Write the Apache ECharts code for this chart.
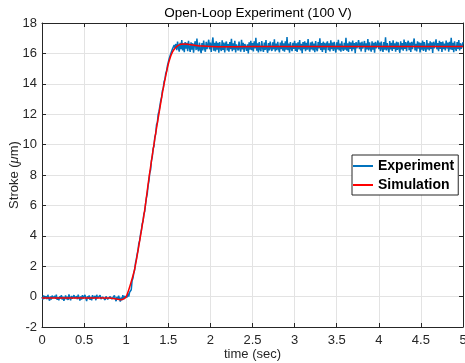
<!DOCTYPE html>
<html>
<head>
<meta charset="utf-8">
<script src="https://cdn.jsdelivr.net/npm/echarts@6/dist/echarts.min.js"></script>
<style>
	html, body { margin: 0; padding: 0; background: #fff; }
	#chart { width: 465px; height: 363px; }
</style>
</head>
<body>
<div id="chart"></div>
<script>
// sample period of the measured signal (sec)
const expDt = 0.01;

// measured stroke, one value per sample, starting at t = 0
const expBaseline = [
	-0.02, -0.20, 0.08, -0.14, -0.24, 0.03, -0.17, 0.12, -0.12, -0.27, 0.01, -0.19, 0.07, -0.10, -0.23, 0.04, -0.15, 0.13, -0.21, -0.04,
	-0.25, 0.02, -0.13, 0.09, -0.19, -0.01, -0.28, -0.09, 0.08, -0.18, 0.00, -0.22, 0.15, -0.08, -0.24, 0.05, -0.14, -0.20, 0.10, -0.11,
	-0.23, 0.03, -0.17, 0.13, -0.07, -0.26, 0.01, -0.19, 0.09, -0.12, -0.22, 0.11, -0.09, -0.30, 0.02, -0.15, 0.08, -0.21, -0.03, -0.25,
	0.10, -0.12, -0.19, 0.04, -0.24, 0.12, -0.10, -0.20, 0.00, 0.09, -0.16, -0.27, -0.02, 0.07, -0.14, -0.22, 0.01, 0.11, -0.18, -0.08,
	-0.25, 0.00, 0.08, -0.17, -0.05, -0.23, 0.07, -0.12, -0.30, -0.02, -0.20, 0.06, -0.13, -0.33, -0.06, -0.24, 0.10, -0.18, 0.02, -0.10,
	0.12, -0.05, 0.20, 0.00, 0.28, 0.15
];
const expRise = [
	0.45, 1.05, 1.20, 1.55, 1.75, 2.20, 2.45, 2.80, 3.05, 3.50, 3.70, 4.10, 4.35, 4.80, 4.95, 5.45, 5.60, 6.10, 6.50, 6.75,
	7.30, 7.60, 8.15, 8.35, 8.95, 9.20, 9.75, 9.90, 10.50, 10.70, 11.30, 11.45, 12.00, 12.20, 12.55, 12.90, 13.10, 13.55, 13.70, 14.15,
	14.30, 14.70, 14.85, 15.20, 15.30, 15.65, 15.70, 16.00, 15.95, 16.30, 16.20, 16.55, 16.35
];
const expPlateau = [
	16.62, 16.21, 16.78, 16.35, 16.12, 16.70, 16.28, 16.88, 16.19, 16.66, 16.08, 16.74, 16.31, 16.69, 16.15, 16.82, 16.38, 16.10, 16.73, 16.24,
	16.67, 16.05, 16.58, 16.80, 16.22, 16.97, 16.30, 16.14, 16.71, 16.26, 16.02, 16.68, 16.20, 16.84, 16.33, 16.11, 16.76, 16.29, 16.17, 16.90,
	16.27, 16.72, 16.09, 16.64, 17.05, 16.18, 16.70, 16.13, 16.79, 16.25, 16.69, 16.04, 16.75, 16.32, 16.16, 16.86, 16.23, 16.71, 16.07, 16.63,
	16.78, 16.20, 16.61, 16.11, 16.74, 16.28, 16.96, 16.15, 16.67, 16.24, 16.83, 16.06, 16.59, 16.72, 16.19, 16.77, 16.30, 16.12, 16.89, 16.26,
	16.70, 16.09, 16.62, 16.75, 16.17, 16.60, 16.00, 16.73, 16.25, 16.82, 16.21, 16.68, 16.13, 16.79, 16.32, 17.02, 16.18, 16.66, 16.06, 16.74,
	16.28, 16.14, 16.81, 16.35, 16.10, 16.72, 16.23, 16.87, 16.30, 16.04, 16.68, 16.20, 16.77, 16.33, 16.16, 16.73, 16.27, 16.92, 16.13, 16.65,
	16.22, 16.76, 16.31, 16.07, 16.71, 16.28, 16.85, 16.18, 16.67, 16.11, 16.80, 16.25, 17.08, 16.21, 16.64, 16.05, 16.75, 16.32, 16.15, 16.70,
	16.29, 16.83, 16.17, 16.66, 16.09, 16.73, 16.27, 16.88, 16.20, 16.63, 16.01, 16.74, 16.28, 16.80, 16.14, 16.69, 16.24, 16.94, 16.31, 16.12,
	16.72, 16.26, 16.78, 16.19, 16.65, 16.08, 16.81, 16.30, 16.15, 16.74, 16.33, 17.00, 16.22, 16.68, 16.10, 16.77, 16.25, 16.70, 16.03, 16.63,
	16.79, 16.21, 16.67, 16.13, 16.86, 16.28, 16.71, 16.16, 16.76, 16.31, 16.06, 16.73, 16.26, 16.90, 16.19, 16.64, 16.11, 16.80, 16.32, 16.17,
	16.70, 16.24, 17.03, 16.18, 16.66, 16.09, 16.78, 16.29, 16.72, 16.14, 16.84, 16.27, 16.68, 16.02, 16.75, 16.33, 16.20, 16.87, 16.28, 16.71,
	16.13, 16.77, 16.31, 16.22, 16.82, 16.08, 16.67, 16.26, 16.95, 16.19, 16.73, 16.32, 16.12, 16.79, 16.25, 16.69, 16.05, 16.76, 16.34, 16.21,
	16.85, 16.28, 16.71, 16.15, 16.78, 16.31, 16.10, 16.74, 16.24, 17.06, 16.20, 16.68, 16.33, 16.07, 16.81, 16.27, 16.70, 16.17, 16.86, 16.30,
	16.66, 16.11, 16.77, 16.23, 16.73, 16.32, 16.04, 16.80, 16.26, 16.68, 16.18, 16.91, 16.29, 16.74, 16.14, 16.64, 16.83, 16.21, 16.71, 16.09,
	16.76, 16.28, 16.67, 16.98, 16.20, 16.63, 16.13, 16.79, 16.31, 16.72, 16.06, 16.69, 16.25, 16.84, 16.17, 16.75, 16.32, 16.11, 16.88, 16.26,
	16.66, 16.19, 16.80, 16.29, 16.72, 16.03, 16.77, 16.33, 16.22, 16.93, 16.27, 16.68, 16.15, 16.82, 16.30, 16.74, 16.10, 16.78, 16.28, 16.65,
	16.20, 16.85, 16.32, 16.71, 16.12, 16.76, 16.26, 17.02, 16.23, 16.69, 16.08, 16.79, 16.33, 16.16, 16.74, 16.29, 16.87, 16.19, 16.67, 16.31,
	16.24, 16.73
];

// simulated response
const simTime = [0, 0.80, 0.88, 0.93, 0.97, 1.00, 1.05, 1.10, 1.17, 1.22, 1.27, 1.34, 1.40, 1.44, 1.48, 1.51, 1.55, 1.60, 1.65, 1.70, 1.80, 1.90, 2.10, 2.50, 5.00];
const simStroke = [-0.10, -0.10, -0.15, -0.20, -0.15, 0.00, 0.80, 1.80, 4.00, 5.70, 7.80, 10.40, 12.40, 13.70, 14.80, 15.50, 16.10, 16.45, 16.60, 16.62, 16.55, 16.48, 16.44, 16.45, 16.45];

const xTicks = { min: 0, max: 5, interval: 0.5 };
const yTicks = { min: -2, max: 18, interval: 2 };

const FONT = "'Liberation Sans', Arial, Helvetica, sans-serif";
const AXIS_COLOR = "#262626";

const expStroke = [...expBaseline, ...expRise, ...expPlateau];
const expData = expStroke.map((v, i) => [+(i * expDt).toFixed(2), v]);
const simData = simTime.map((t, i) => [t, simStroke[i]]);

function frameAxis(position, ticks) {
	return {
		type: "value",
		position,
		...ticks,
		axisLine: { show: true, onZero: false, lineStyle: { color: AXIS_COLOR, width: 1 } },
		axisTick: { show: true, inside: true, length: 4, lineStyle: { color: AXIS_COLOR } },
		axisLabel: { show: false },
		splitLine: { show: false }
	};
}

const chart = echarts.init(document.getElementById("chart"), null, { renderer: "canvas" });

chart.setOption({
	animation: false,
	backgroundColor: "#fff",
	textStyle: { fontFamily: FONT },
	title: {
		text: "Open-Loop Experiment (100 V)",
		left: 253,
		top: 1,
		textAlign: "center",
		textStyle: { fontFamily: FONT, fontSize: 13.5, fontWeight: "normal", color: "#000" }
	},
	grid: { left: 42, right: 2, top: 23, bottom: 36, containLabel: false, outerBoundsMode: "none" },
	legend: {
		orient: "vertical",
		left: 352,
		top: 155,
		padding: [3, 4, 2, 1],
		itemGap: 3,
		itemWidth: 20,
		itemHeight: 2,
		icon: "rect",
		backgroundColor: "#fff",
		borderColor: AXIS_COLOR,
		borderWidth: 1,
		borderRadius: 0,
		textStyle: { fontFamily: FONT, fontSize: 14, fontWeight: "bold", color: "#000", lineHeight: 16 },
		data: ["Experiment", "Simulation"]
	},
	xAxis: [
		{
			type: "value",
			position: "bottom",
			...xTicks,
			name: "time (sec)",
			nameLocation: "middle",
			nameGap: 21,
			nameMoveOverlap: false,
			nameTextStyle: { fontFamily: FONT, fontSize: 13, color: AXIS_COLOR },
			axisLine: { show: true, onZero: false, lineStyle: { color: AXIS_COLOR, width: 1 } },
			axisTick: { show: true, inside: true, length: 4, lineStyle: { color: AXIS_COLOR } },
			axisLabel: { margin: 7, fontFamily: FONT, fontSize: 13, color: AXIS_COLOR },
			splitLine: { show: true, lineStyle: { color: "#e3e3e3", width: 1 } }
		},
		frameAxis("top", xTicks)
	],
	yAxis: [
		{
			type: "value",
			position: "left",
			...yTicks,
			name: "Stroke ({i|μ}m)",
			nameLocation: "middle",
			nameGap: 21,
			nameMoveOverlap: false,
			nameRotate: 90,
			nameTextStyle: {
				fontFamily: FONT,
				fontSize: 13,
				color: AXIS_COLOR,
				rich: { i: { fontFamily: FONT, fontSize: 13, fontStyle: "italic", color: AXIS_COLOR } }
			},
			axisLine: { show: true, onZero: false, lineStyle: { color: AXIS_COLOR, width: 1 } },
			axisTick: { show: true, inside: true, length: 4, lineStyle: { color: AXIS_COLOR } },
			axisLabel: { margin: 5, fontFamily: FONT, fontSize: 13, color: AXIS_COLOR },
			splitLine: { show: true, lineStyle: { color: "#e3e3e3", width: 1 } }
		},
		frameAxis("right", yTicks)
	],
	series: [
		{
			name: "Experiment",
			type: "line",
			xAxisIndex: 0,
			yAxisIndex: 0,
			data: expData,
			showSymbol: false,
			symbol: "none",
			color: "#0072BD",
			lineStyle: { color: "#0072BD", width: 1.5 },
			clip: true
		},
		{
			name: "Simulation",
			type: "line",
			xAxisIndex: 0,
			yAxisIndex: 0,
			data: simData,
			smooth: 0.3,
			showSymbol: false,
			symbol: "none",
			color: "#FF0000",
			lineStyle: { color: "#FF0000", width: 1.5 },
			clip: true
		}
	]
});
</script>
</body>
</html>
